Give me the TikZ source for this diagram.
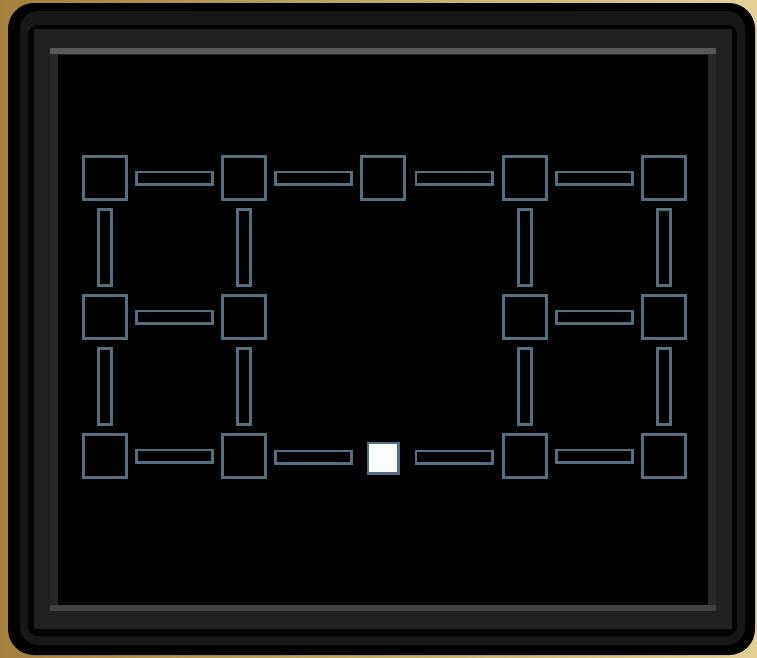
\documentclass[tikz,border=0pt]{standalone}
\usepackage{tikz}
\usetikzlibrary{calc,positioning}
\definecolor{gnodo}{RGB}{84,112,126}
\definecolor{gblanco}{RGB}{248,252,250}
\definecolor{goro}{RGB}{164,128,60}
\definecolor{gcrema}{RGB}{226,210,150}
\definecolor{gbanda}{RGB}{22,23,22}
\definecolor{gmarco}{RGB}{32,33,32}
\definecolor{glado}{RGB}{38,39,38}
\definecolor{gbrillo}{RGB}{88,90,88}

\begin{document}
\begin{tikzpicture}[x=1pt, y=-1pt,
    every node/.style={draw=gnodo, line width=2.6pt, inner sep=0pt, fill=black},
    cell/.style={minimum size=43.4pt},
    hole/.style={minimum size=30.4pt, fill=gblanco},
    hbar/.style={minimum width=76.4pt, minimum height=12.4pt},
    vbar/.style={minimum width=13.4pt, minimum height=76.4pt}]
  \useasboundingbox (0,0) rectangle (757,657);
  % marco
  \shade[left color=goro, right color=gcrema] (0,0) rectangle (757,657);
  \fill[black, rounded corners=26pt] (8,3) rectangle (755,655);
  \fill[gbanda, rounded corners=18pt] (20,11) rectangle (745,645);
  \fill[black, rounded corners=10pt] (28,25) rectangle (737,636);
  \fill[gmarco] (34,29) rectangle (732,629);
  \fill[glado] (50,48) rectangle (716,611);
  \fill[gbrillo] (50,48) rectangle (716,54);
  \fill[gbrillo!75!black] (50,605) rectangle (716,611);
  \fill[black] (58,55) rectangle (708,605);
  % celdas
  \foreach \n/\x/\y in {c00/105/178, c10/244/178, c20/383/178, c30/525/178, c40/664/178,
                        c01/105/317, c11/244/317, c31/525/317, c41/664/317,
                        c02/105/456, c12/244/456, c32/525/456, c42/664/456}
    \node[cell] (\n) at (\x,\y) {};
  \node[hole] (c22) at (383,458) {};
  % enlaces
  \foreach \a/\b in {c00/c10, c10/c20, c20/c30, c30/c40, c01/c11, c31/c41,
                     c02/c12, c12/c22, c22/c32, c32/c42}
    \node[hbar] (h-\a-\b) at ($(\a.center)!0.5!(\b.center)$ |- \a.center) {};
  \foreach \a/\b in {c00/c01, c10/c11, c30/c31, c40/c41,
                     c01/c02, c11/c12, c31/c32, c41/c42}
    \node[vbar] (v-\a-\b) at ($(\a.center)!0.5!(\b.center)$) {};
\end{tikzpicture}
\end{document}
